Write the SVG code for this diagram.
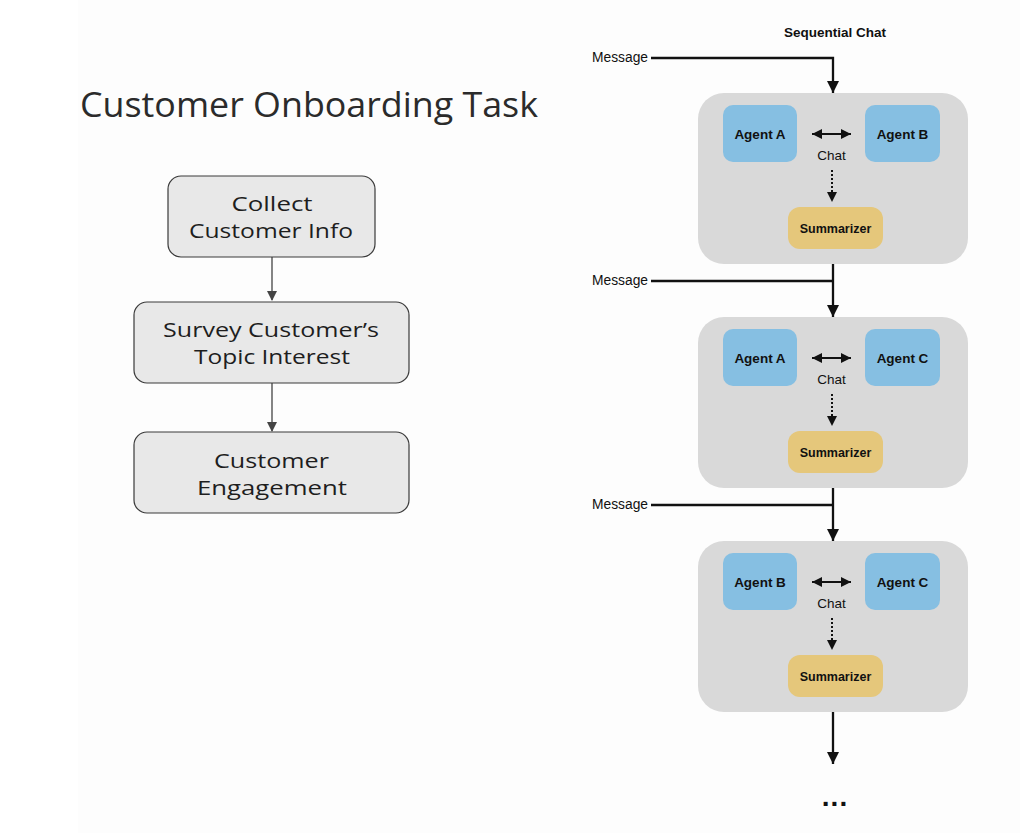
<svg xmlns="http://www.w3.org/2000/svg" width="1020" height="833" viewBox="0 0 1020 833">
<defs>
<style>
.title{font-family:"Open Sans","Liberation Sans",sans-serif;font-size:35px;fill:#2b2b2b;}
.step{fill:#e8e8e8;stroke:#3a3a3a;stroke-width:1.2;}
.steptxt{font-family:"Open Sans","Liberation Sans",sans-serif;font-size:20px;fill:#1e1e1e;text-anchor:middle;}
.larrow{stroke:#444;stroke-width:1.3;fill:none;}
.cont{fill:#d9d9d9;}
.agent{fill:#86bfe2;}
.summ{fill:#e5c77b;}
.bold{font-family:"Liberation Sans",Arial,sans-serif;font-weight:bold;fill:#111;text-anchor:middle;}
.reg{font-family:"Liberation Sans",Arial,sans-serif;fill:#111;}
.flow{stroke:#111;stroke-width:2.3;fill:none;}
.dbl{stroke:#111;stroke-width:2;fill:none;}
.dot{stroke:#111;stroke-width:2;stroke-dasharray:2 2;fill:none;}
</style>
<marker id="lhead" markerUnits="userSpaceOnUse" markerWidth="10" markerHeight="12" refX="9" refY="5" orient="auto"><path d="M0,0 L10,5 L0,10 z" fill="#444"/></marker>
<marker id="head" markerUnits="userSpaceOnUse" markerWidth="14" markerHeight="14" refX="12" refY="6" orient="auto"><path d="M0,0 L12,6 L0,12 z" fill="#111"/></marker>
<marker id="shead" markerUnits="userSpaceOnUse" markerWidth="12" markerHeight="12" refX="10" refY="5" orient="auto"><path d="M0,0 L10,5 L0,10 z" fill="#111"/></marker>
<marker id="stail" markerUnits="userSpaceOnUse" markerWidth="12" markerHeight="12" refX="0" refY="5" orient="auto"><path d="M10,0 L0,5 L10,10 z" fill="#111"/></marker>
</defs>
<rect x="0" y="0" width="1020" height="833" fill="#ffffff"/>
<rect x="78" y="0" width="942" height="833" fill="#fdfdfd"/>

<text class="title" x="80" y="117" textLength="458" lengthAdjust="spacingAndGlyphs">Customer Onboarding Task</text>

<g id="connectors">
<line class="larrow" x1="272" y1="257" x2="272" y2="300" marker-end="url(#lhead)"/>
<line class="larrow" x1="272" y1="383" x2="272" y2="431" marker-end="url(#lhead)"/>
<polyline class="flow" points="651,58 833,58 833,93" marker-end="url(#head)"/>
<polyline class="flow" points="651,281 833,281" />
<line class="flow" x1="833" y1="249" x2="833" y2="317" marker-end="url(#head)"/>
<line class="flow" x1="651" y1="505" x2="833" y2="505"/>
<line class="flow" x1="833" y1="472" x2="833" y2="541" marker-end="url(#head)"/>
<line class="flow" x1="833" y1="696" x2="833" y2="764" marker-end="url(#head)"/>
</g>

<g id="step-collect">
<rect class="step" x="168" y="176" width="207" height="81" rx="13"/>
<text class="steptxt" x="272" y="211" textLength="81" lengthAdjust="spacingAndGlyphs">Collect</text>
<text class="steptxt" x="271" y="238" textLength="164" lengthAdjust="spacingAndGlyphs">Customer Info</text>
</g>
<g id="step-survey">
<rect class="step" x="134" y="302" width="275" height="81" rx="13"/>
<text class="steptxt" x="271" y="337" textLength="216" lengthAdjust="spacingAndGlyphs">Survey Customer’s</text>
<text class="steptxt" x="272" y="364" textLength="156" lengthAdjust="spacingAndGlyphs">Topic Interest</text>
</g>
<g id="step-engage">
<rect class="step" x="134" y="432" width="275" height="81" rx="13"/>
<text class="steptxt" x="271.5" y="468" textLength="115" lengthAdjust="spacingAndGlyphs">Customer</text>
<text class="steptxt" x="272" y="495" textLength="150" lengthAdjust="spacingAndGlyphs">Engagement</text>
</g>

<g id="seq-title"><text class="bold" x="835" y="37" font-size="13.5">Sequential Chat</text></g>
<g id="msg1"><text class="reg" x="592" y="62" font-size="13.8">Message</text></g>
<g id="msg2"><text class="reg" x="592" y="285" font-size="13.8">Message</text></g>
<g id="msg3"><text class="reg" x="592" y="509" font-size="13.8">Message</text></g>

<g id="chat1">
<rect class="cont" x="698" y="93" width="270" height="171" rx="26"/>
<rect class="agent" x="723" y="105" width="74" height="57" rx="10"/>
<text class="bold" x="760" y="139" font-size="13.5">Agent A</text>
<rect class="agent" x="865" y="105" width="75" height="57" rx="10"/>
<text class="bold" x="902.5" y="139" font-size="13.5">Agent B</text>
<line class="dbl" x1="812" y1="134" x2="851" y2="134" marker-start="url(#stail)" marker-end="url(#shead)"/>
<text class="reg" x="831.5" y="160" font-size="13.5" text-anchor="middle">Chat</text>
<line class="dot" x1="832" y1="170" x2="832" y2="202" marker-end="url(#shead)"/>
<rect class="summ" x="788" y="207" width="95" height="42" rx="12"/>
<text class="bold" x="835.5" y="232.5" font-size="12.5">Summarizer</text>
</g>

<g id="chat2">
<rect class="cont" x="698" y="317" width="270" height="171" rx="26"/>
<rect class="agent" x="723" y="329" width="74" height="57" rx="10"/>
<text class="bold" x="760" y="363" font-size="13.5">Agent A</text>
<rect class="agent" x="865" y="329" width="75" height="57" rx="10"/>
<text class="bold" x="902.5" y="363" font-size="13.5">Agent C</text>
<line class="dbl" x1="812" y1="358" x2="851" y2="358" marker-start="url(#stail)" marker-end="url(#shead)"/>
<text class="reg" x="831.5" y="384" font-size="13.5" text-anchor="middle">Chat</text>
<line class="dot" x1="832" y1="394" x2="832" y2="426" marker-end="url(#shead)"/>
<rect class="summ" x="788" y="431" width="95" height="42" rx="12"/>
<text class="bold" x="835.5" y="456.5" font-size="12.5">Summarizer</text>
</g>

<g id="chat3">
<rect class="cont" x="698" y="541" width="270" height="171" rx="26"/>
<rect class="agent" x="723" y="553" width="74" height="57" rx="10"/>
<text class="bold" x="760" y="587" font-size="13.5">Agent B</text>
<rect class="agent" x="865" y="553" width="75" height="57" rx="10"/>
<text class="bold" x="902.5" y="587" font-size="13.5">Agent C</text>
<line class="dbl" x1="812" y1="582" x2="851" y2="582" marker-start="url(#stail)" marker-end="url(#shead)"/>
<text class="reg" x="831.5" y="608" font-size="13.5" text-anchor="middle">Chat</text>
<line class="dot" x1="832" y1="618" x2="832" y2="650" marker-end="url(#shead)"/>
<rect class="summ" x="788" y="655" width="95" height="42" rx="12"/>
<text class="bold" x="835.5" y="680.5" font-size="12.5">Summarizer</text>
</g>

<g id="ellipsis"><text class="bold" x="835" y="806" font-size="28" letter-spacing="1">...</text></g>
</svg>
